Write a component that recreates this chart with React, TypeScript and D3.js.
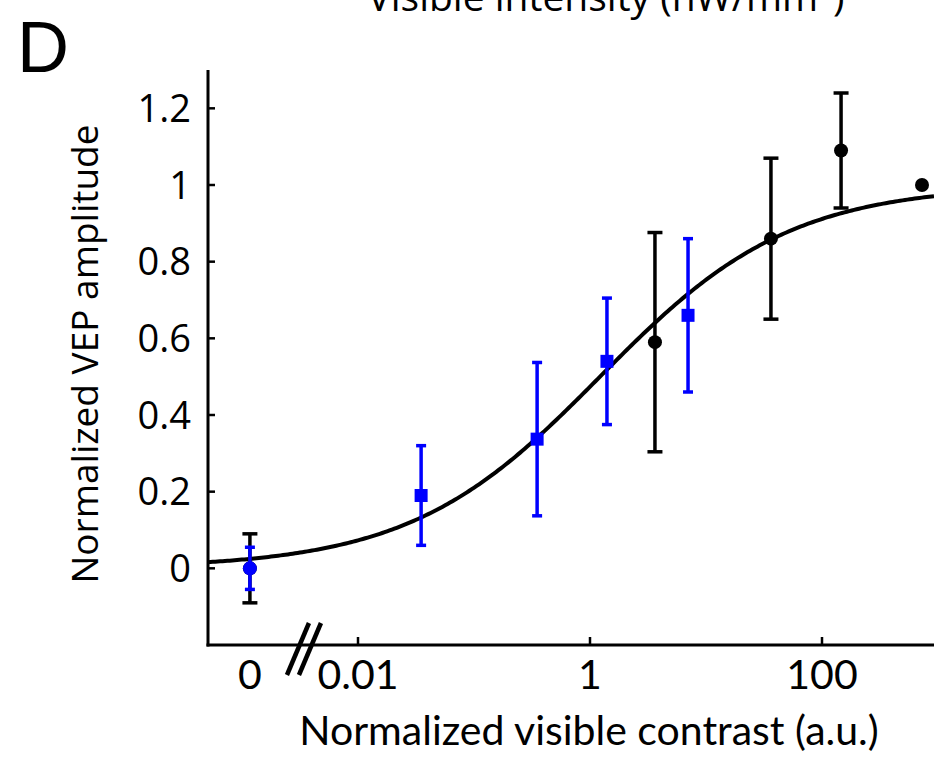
import React, { useEffect, useRef } from "react";
import * as d3 from "d3";

// ---- data ----
const ZERO_STANDIN = 0.00117; // position of the "0" category on the broken log axis
const blackX = [ZERO_STANDIN, 3.63, 36.3, 146, 728];
const blackY = [0, 0.59, 0.86, 1.09, 1.0];
const blackErr = [0.09, 0.286, 0.21, 0.15, 0];

const blueX = [ZERO_STANDIN, 0.035, 0.35, 1.4, 7.0];
const blueY = [0, 0.19, 0.337, 0.54, 0.66];
const blueErr = [0.055, 0.13, 0.2, 0.165, 0.2];
const blueShape = ["circle", "square", "square", "square", "square"];

const xTickValues = [ZERO_STANDIN, 0.01, 1, 100];
const xTickLabels = ["0", "0.01", "1", "100"];
const yTickValues = [0, 0.2, 0.4, 0.6, 0.8, 1, 1.2];
const yTickLabels = ["0", "0.2", "0.4", "0.6", "0.8", "1", "1.2"];

// Hill fit parameters
const FIT_EC50 = 1.22;
const FIT_N = 0.529;

const W = 934;
const H = 758;
const PLOT = { left: 208, right: 934, top: 70, bottom: 645 };

export default function App() {
  const ref = useRef<SVGSVGElement | null>(null);

  useEffect(() => {
    const svg = d3.select(ref.current);
    svg.selectAll("*").remove();

    const x = d3.scaleLog().domain([0.01, 100]).range([358, 822]);
    const y = d3.scaleLinear().domain([-0.2, 1.3]).range([PLOT.bottom, PLOT.top]);

    const g = svg.append("g");

    // panel letter
    g.append("text")
      .attr("x", 17)
      .attr("y", 72)
      .attr("font-family", "Liberation Sans, Arial, sans-serif")
      .attr("font-size", 72)
      .text("D");

    // top title (clipped by the top edge as in the reference)
    g.append("text")
      .attr("x", 606)
      .attr("y", 11)
      .attr("text-anchor", "middle")
      .attr("font-family", "Open Sans, sans-serif")
      .attr("font-size", 39)
      .html("Visible intensity (nW/mm<tspan dy='-14' font-size='26'>2</tspan><tspan dy='14'>)</tspan>");

    // curve
    const lo = Math.log10(x.invert(PLOT.left));
    const hi = Math.log10(x.invert(PLOT.right));
    const pts = d3.range(0, 301).map((i) => {
      const c = Math.pow(10, lo + ((hi - lo) * i) / 300);
      const v = Math.pow(c, FIT_N) / (Math.pow(c, FIT_N) + Math.pow(FIT_EC50, FIT_N));
      return [x(c), y(v)] as [number, number];
    });
    g.append("path")
      .attr("d", d3.line()(pts)!)
      .attr("fill", "none")
      .attr("stroke", "#000")
      .attr("stroke-width", 4);

    // black series
    blackX.forEach((cx, i) => {
      const px = x(cx);
      if (blackErr[i] > 0) {
        const y1 = y(blackY[i] + blackErr[i]);
        const y2 = y(blackY[i] - blackErr[i]);
        g.append("line").attr("x1", px).attr("x2", px).attr("y1", y1).attr("y2", y2)
          .attr("stroke", "#000").attr("stroke-width", 3.5);
        [y1, y2].forEach((yy) =>
          g.append("line").attr("x1", px - 7.5).attr("x2", px + 7.5).attr("y1", yy).attr("y2", yy)
            .attr("stroke", "#000").attr("stroke-width", 3.5)
        );
      }
      g.append("circle").attr("cx", px).attr("cy", y(blackY[i])).attr("r", 7).attr("fill", "#000");
    });

    // blue series
    blueX.forEach((cx, i) => {
      const px = x(cx);
      const y1 = y(blueY[i] + blueErr[i]);
      const y2 = y(blueY[i] - blueErr[i]);
      g.append("line").attr("x1", px).attr("x2", px).attr("y1", y1).attr("y2", y2)
        .attr("stroke", "#0000ff").attr("stroke-width", 3.5);
      [y1, y2].forEach((yy) =>
        g.append("line").attr("x1", px - 5).attr("x2", px + 5).attr("y1", yy).attr("y2", yy)
          .attr("stroke", "#0000ff").attr("stroke-width", 3.5)
      );
      if (blueShape[i] === "circle") {
        g.append("circle").attr("cx", px).attr("cy", y(blueY[i])).attr("r", 7).attr("fill", "#0000ff");
      } else {
        g.append("rect").attr("x", px - 6.5).attr("y", y(blueY[i]) - 6.5)
          .attr("width", 13).attr("height", 13).attr("fill", "#0000ff");
      }
    });

    // axes lines
    g.append("line").attr("x1", PLOT.left).attr("x2", PLOT.left).attr("y1", PLOT.top).attr("y2", PLOT.bottom + 1.5)
      .attr("stroke", "#000").attr("stroke-width", 3);
    g.append("line").attr("x1", PLOT.left - 1.5).attr("x2", PLOT.right).attr("y1", PLOT.bottom).attr("y2", PLOT.bottom)
      .attr("stroke", "#000").attr("stroke-width", 3);

    // y ticks
    yTickValues.forEach((v, i) => {
      g.append("line").attr("x1", PLOT.left).attr("x2", PLOT.left + 7).attr("y1", y(v)).attr("y2", y(v))
        .attr("stroke", "#000").attr("stroke-width", 2.5);
      g.append("text")
        .attr("x", 191)
        .attr("y", y(v))
        .attr("dy", "0.36em")
        .attr("text-anchor", "end")
        .attr("font-family", "Open Sans, sans-serif")
        .attr("font-size", 38)
        .text(yTickLabels[i]);
    });

    // x ticks
    xTickValues.forEach((v, i) => {
      if (i > 0) {
        g.append("line").attr("x1", x(v)).attr("x2", x(v)).attr("y1", PLOT.bottom).attr("y2", PLOT.bottom - 8)
          .attr("stroke", "#000").attr("stroke-width", 2.5);
      }
      g.append("text")
        .attr("x", x(v))
        .attr("y", 689)
        .attr("text-anchor", "middle")
        .attr("font-family", "Lato, sans-serif")
        .attr("font-size", 41)
        .text(xTickLabels[i]);
    });

    // axis break marks
    const bx = (x(ZERO_STANDIN) + x(0.01)) / 2;
    [-6, 6].forEach((off) => {
      g.append("line")
        .attr("x1", bx + off - 11).attr("y1", PLOT.bottom + 30)
        .attr("x2", bx + off + 11).attr("y2", PLOT.bottom - 22)
        .attr("stroke", "#000").attr("stroke-width", 4.5);
    });

    // axis titles
    g.append("text")
      .attr("x", 589)
      .attr("y", 745)
      .attr("text-anchor", "middle")
      .attr("font-family", "Lato, sans-serif")
      .attr("font-size", 41)
      .text("Normalized visible contrast (a.u.)");

    g.append("text")
      .attr("transform", `translate(98,354) rotate(-90)`)
      .attr("text-anchor", "middle")
      .attr("font-family", "Open Sans, sans-serif")
      .attr("font-size", 37)
      .text("Normalized VEP amplitude");
  }, []);

  return (
    <svg ref={ref} width={W} height={H} style={{ display: "block", position: "absolute", left: 0, top: 0, background: "#fff" }} />
  );
}
